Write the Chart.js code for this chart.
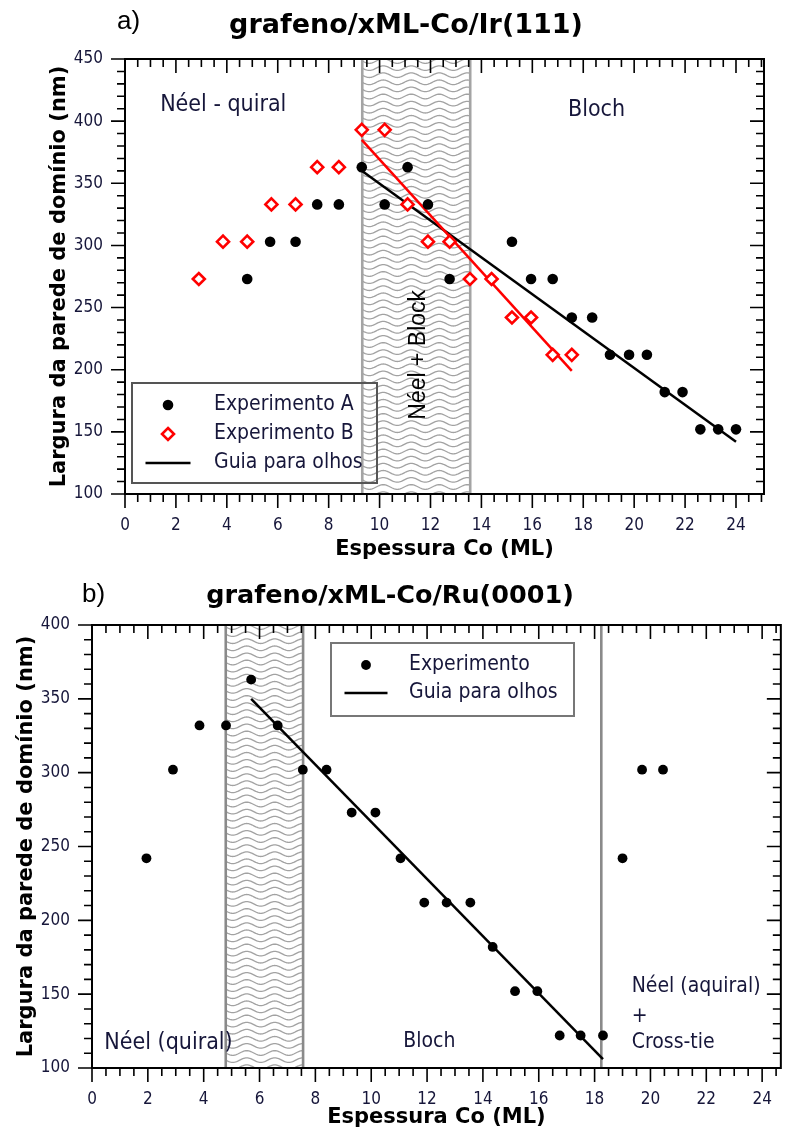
<!DOCTYPE html>
<html>
<head>
<meta charset="utf-8">
<title>Largura da parede de domínio vs espessura Co</title>
<script src="https://cdn.jsdelivr.net/npm/chart.js@4.4.1/dist/chart.umd.min.js"></script>
<style>
  html, body { margin: 0; padding: 0; background: #fff; }
  #wrap { position: relative; width: 793px; height: 1136px; }
  canvas { position: absolute; left: 0; }
  #chartIr { top: 0; }
  #chartRu { top: 568px; }
</style>
</head>
<body>
<div id="wrap">
  <canvas id="chartIr" width="793" height="568"></canvas>
  <canvas id="chartRu" width="793" height="568"></canvas>
</div>
<script>
// a) grafeno/xML-Co/Ir(111)
const irExpAX = [4.8, 5.7, 6.7, 7.55, 8.4, 9.3, 10.2, 11.1, 11.9, 12.75, 15.2, 15.95, 16.8, 17.55, 18.35, 19.05, 19.8, 20.5, 21.2, 21.9, 22.6, 23.3, 24.0];
const irExpAY = [273, 303, 303, 333, 333, 363, 333, 363, 333, 273, 303, 273, 273, 242, 242, 212, 212, 212, 182, 182, 152, 152, 152];
const irExpBX = [2.9, 3.85, 4.8, 5.75, 6.7, 7.55, 8.4, 9.3, 10.2, 11.1, 11.9, 12.75, 13.55, 14.4, 15.2, 15.95, 16.8, 17.55];
const irExpBY = [273, 303, 303, 333, 333, 363, 363, 393, 393, 333, 303, 303, 273, 273, 242, 242, 212, 212];
const irGuideAX = [9.3, 24.0];
const irGuideAY = [360, 142];
const irGuideBX = [9.3, 17.55];
const irGuideBY = [385, 199];
const irBand = [9.32, 13.56];
const irXTicks = [0, 2, 4, 6, 8, 10, 12, 14, 16, 18, 20, 22, 24];
const irYTicks = [100, 150, 200, 250, 300, 350, 400, 450];

// b) grafeno/xML-Co/Ru(0001)
const ruExpX = [1.95, 2.9, 3.85, 4.8, 5.7, 6.65, 7.55, 8.4, 9.3, 10.15, 11.05, 11.9, 12.7, 13.55, 14.35, 15.15, 15.95, 16.75, 17.5, 18.3, 19.0, 19.7, 20.45];
const ruExpY = [242, 302, 332, 332, 363, 332, 302, 302, 273, 273, 242, 212, 212, 212, 182, 152, 152, 122, 122, 122, 242, 302, 302];
const ruGuideX = [5.7, 18.3];
const ruGuideY = [350, 106];
const ruBand = [4.79, 7.56];
const ruLimit = [18.24];
const ruXTicks = [0, 2, 4, 6, 8, 10, 12, 14, 16, 18, 20, 22, 24];
const ruYTicks = [100, 150, 200, 250, 300, 350, 400];

const FONT = "'DejaVu Sans Condensed', 'DejaVu Sans', sans-serif";
const BOLD = "'DejaVu Sans', sans-serif";
const ARIAL = '"Liberation Sans", Arial, sans-serif';
const TXT = '#16163a';

const pts = (xs, ys) => xs.map((x, i) => ({ x: x, y: ys[i] }));

// wavy hatch, edges, notes, legend, frame and minor ticks
const decor = {
  id: 'decor',
  beforeDatasetsDraw(chart, args, o) {
    const { ctx, chartArea: a, scales: { x } } = chart;
    (o.bands || []).forEach(b => {
      const x0 = x.getPixelForValue(b[0]);
      const x1 = x.getPixelForValue(b[1]);
      ctx.save();
      ctx.beginPath();
      ctx.rect(x0, a.top, x1 - x0, a.bottom - a.top);
      ctx.clip();
      ctx.strokeStyle = '#a2a2a2';
      ctx.lineWidth = 1.3;
      for (let yy = a.top + 2; yy < a.bottom + 4; yy += 7.1) {
        ctx.beginPath();
        for (let xx = x0; xx <= x1 + 1; xx++) {
          const w = yy + 2.3 * Math.sin((xx - x0) / 28 * 2 * Math.PI);
          if (xx === x0) ctx.moveTo(xx, w); else ctx.lineTo(xx, w);
        }
        ctx.stroke();
      }
      ctx.restore();
    });
    const edges = [];
    (o.bands || []).forEach(b => edges.push(b[0], b[1]));
    (o.vlines || []).forEach(v => edges.push(v));
    ctx.save();
    ctx.strokeStyle = o.edgeColor;
    ctx.lineWidth = o.edgeWidth;
    edges.forEach(v => {
      const px = x.getPixelForValue(v);
      ctx.beginPath();
      ctx.moveTo(px, a.top);
      ctx.lineTo(px, a.bottom);
      ctx.stroke();
    });
    ctx.restore();
  },
  afterDatasetsDraw(chart, args, o) {
    const { ctx, chartArea: a, scales: { x, y } } = chart;
    ctx.save();
    // title and panel letter
    ctx.fillStyle = '#000';
    ctx.textBaseline = 'alphabetic';
    ctx.textAlign = 'center';
    ctx.font = 'bold ' + o.titleSize + 'px ' + BOLD;
    ctx.fillText(o.title, o.titleX, o.titleY);
    ctx.textAlign = 'left';
    ctx.font = '26px ' + ARIAL;
    ctx.fillText(o.panel, o.panelX, o.panelY);

    // region notes
    o.notes.forEach(n => {
      ctx.save();
      ctx.translate(x.getPixelForValue(n.x), y.getPixelForValue(n.y));
      ctx.fillStyle = n.color || TXT;
      ctx.font = n.font || ('21px ' + FONT);
      if (n.rotate) {
        ctx.rotate(-Math.PI / 2);
        ctx.textAlign = 'center';
      } else {
        ctx.textAlign = 'left';
      }
      ctx.textBaseline = 'middle';
      ctx.fillText(n.text, 0, 0);
      ctx.restore();
    });

    // legend box
    const L = o.legend;
    const bx = a.left + L.dx, by = a.top + L.dy;
    ctx.strokeStyle = L.border;
    ctx.lineWidth = 2;
    ctx.strokeRect(bx, by, L.w, L.h);
    const items = chart.data.datasets.filter(d => d.inLegend !== false);
    items.forEach((d, i) => {
      const ry = by + L.rowY[i];
      const mx = bx + L.markX;
      if (d.showLine) {
        ctx.strokeStyle = d.borderColor;
        ctx.lineWidth = d.borderWidth;
        ctx.beginPath();
        ctx.moveTo(mx - L.lineLen / 2, ry);
        ctx.lineTo(mx + L.lineLen / 2, ry);
        ctx.stroke();
      } else {
        ctx.fillStyle = d.backgroundColor;
        ctx.strokeStyle = d.borderColor;
        ctx.lineWidth = d.borderWidth;
        ctx.beginPath();
        if (d.pointStyle === 'rectRot') {
          const r = d.pointRadius;
          ctx.moveTo(mx, ry - r); ctx.lineTo(mx + r, ry); ctx.lineTo(mx, ry + r); ctx.lineTo(mx - r, ry); ctx.closePath();
        } else {
          ctx.arc(mx, ry, d.pointRadius, 0, Math.PI * 2);
        }
        ctx.fill();
        if (d.borderWidth) ctx.stroke();
      }
      ctx.fillStyle = TXT;
      ctx.font = '21px ' + FONT;
      ctx.textAlign = 'left';
      ctx.textBaseline = 'middle';
      ctx.fillText(d.label, bx + L.textX, ry);
    });
    ctx.restore();
  },
  afterDraw(chart) {
    const { ctx, chartArea: a, scales: { x, y } } = chart;
    ctx.save();
    ctx.strokeStyle = '#000';
    ctx.lineWidth = 1.6;
    const maj = 14, mnr = 8;
    for (let i = 0; i * 0.5 <= x.max + 1e-6; i++) {
      const px = x.getPixelForValue(i * 0.5);
      const len = i % 4 === 0 ? maj : mnr;
      ctx.beginPath();
      ctx.moveTo(px, a.bottom); ctx.lineTo(px, a.bottom + len);
      ctx.moveTo(px, a.top); ctx.lineTo(px, a.top + len);
      ctx.stroke();
    }
    for (let v = y.min; v <= y.max + 1e-6; v += 10) {
      const py = y.getPixelForValue(v);
      const len = v % 50 === 0 ? maj : mnr;
      ctx.beginPath();
      ctx.moveTo(a.left, py); ctx.lineTo(a.left - len, py);
      ctx.moveTo(a.right, py); ctx.lineTo(a.right - len, py);
      ctx.stroke();
    }
    ctx.lineWidth = 2;
    ctx.strokeRect(a.left, a.top, a.right - a.left, a.bottom - a.top);
    ctx.restore();
  }
};

function axes(xMax, yMin, yMax, xTicks, yTicks, yWidth, xHeight, yTitlePad) {
  return {
    x: {
      type: 'linear', min: 0, max: xMax,
      afterBuildTicks: s => { s.ticks = xTicks.map(v => ({ value: v })); },
      afterFit: s => { s.height = xHeight; },
      grid: { display: false, drawTicks: false },
      border: { display: false },
      ticks: { padding: 21, color: TXT, font: { family: FONT, size: 17 } },
      title: {
        display: true, text: 'Espessura Co (ML)', color: '#000',
        font: { family: BOLD, size: 21, weight: 'bold' },
        padding: { top: 0, bottom: 6 }
      }
    },
    y: {
      type: 'linear', min: yMin, max: yMax,
      afterBuildTicks: s => { s.ticks = yTicks.map(v => ({ value: v })); },
      afterFit: s => { s.width = yWidth; },
      grid: { display: false, drawTicks: false },
      border: { display: false },
      ticks: { padding: 22, color: TXT, font: { family: FONT, size: 17 } },
      title: {
        display: true, text: 'Largura da parede de domínio (nm)', color: '#000',
        font: { family: BOLD, size: 21, weight: 'bold' },
        padding: { top: yTitlePad, bottom: 0 }
      }
    }
  };
}

Chart.defaults.font.family = FONT;

new Chart(document.getElementById('chartIr'), {
  type: 'scatter',
  data: {
    datasets: [
      { label: 'Experimento A', data: pts(irExpAX, irExpAY), pointStyle: 'circle', pointRadius: 5.3,
        backgroundColor: '#000', borderColor: '#000', borderWidth: 0, order: 1 },
      { label: 'Experimento B', data: pts(irExpBX, irExpBY), pointStyle: 'rectRot', pointRadius: 6,
        backgroundColor: '#fff', borderColor: '#ff0000', borderWidth: 2.6, order: 0 },
      { label: 'Guia para olhos', data: pts(irGuideAX, irGuideAY), showLine: true, pointRadius: 0,
        borderColor: '#000', borderWidth: 2.5, order: 3 },
      { label: 'Guia B', inLegend: false, data: pts(irGuideBX, irGuideBY), showLine: true, pointRadius: 0,
        borderColor: '#ff0000', borderWidth: 2.5, order: 2 }
    ]
  },
  options: {
    responsive: false,
    animation: false,
    layout: { padding: { left: 0, right: 29, top: 59, bottom: 0 } },
    scales: axes(25.1, 100, 450, irXTicks, irYTicks, 125, 74, 47),
    plugins: {
      legend: { display: false },
      tooltip: { enabled: false },
      decor: {
        title: 'grafeno/xML-Co/Ir(111)', titleSize: 27, titleX: 406, titleY: 33,
        panel: 'a)', panelX: 117, panelY: 29,
        bands: [irBand], vlines: [], edgeColor: '#a4a4a4', edgeWidth: 2.6,
        notes: [
          { text: 'Néel - quiral', x: 1.38, y: 413, font: '23px ' + FONT },
          { text: 'Bloch', x: 17.4, y: 409, font: '23px ' + FONT },
          { text: 'Néel + Block', x: 11.55, y: 212, rotate: true, color: '#000', font: '23px ' + ARIAL }
        ],
        legend: { dx: 7, dy: 324, w: 245, h: 100, border: '#555', markX: 36, textX: 82, lineLen: 45, rowY: [22, 51, 80] }
      }
    }
  },
  plugins: [decor]
});

new Chart(document.getElementById('chartRu'), {
  type: 'scatter',
  data: {
    datasets: [
      { label: 'Experimento', data: pts(ruExpX, ruExpY), pointStyle: 'circle', pointRadius: 4.9,
        backgroundColor: '#000', borderColor: '#000', borderWidth: 0, order: 0 },
      { label: 'Guia para olhos', data: pts(ruGuideX, ruGuideY), showLine: true, pointRadius: 0,
        borderColor: '#000', borderWidth: 2.5, order: 1 }
    ]
  },
  options: {
    responsive: false,
    animation: false,
    layout: { padding: { left: 0, right: 5, top: 57, bottom: 0 } },
    scales: axes(24.67, 100, 400, ruXTicks, ruYTicks, 92, 68, 14),
    plugins: {
      legend: { display: false },
      tooltip: { enabled: false },
      decor: {
        title: 'grafeno/xML-Co/Ru(0001)', titleSize: 25.5, titleX: 390, titleY: 35,
        panel: 'b)', panelX: 82, panelY: 34,
        bands: [ruBand], vlines: ruLimit, edgeColor: '#8a8a8a', edgeWidth: 2.6,
        notes: [
          { text: 'Néel (quiral)', x: 0.44, y: 117, font: '23px ' + FONT },
          { text: 'Bloch', x: 11.15, y: 118 },
          { text: 'Néel (aquiral)', x: 19.33, y: 155 },
          { text: '+', x: 19.33, y: 135 },
          { text: 'Cross-tie', x: 19.33, y: 117 }
        ],
        legend: { dx: 239, dy: 18, w: 243, h: 73, border: '#777', markX: 35, textX: 78, lineLen: 43, rowY: [22, 50] }
      }
    }
  },
  plugins: [decor]
});
</script>
</body>
</html>
